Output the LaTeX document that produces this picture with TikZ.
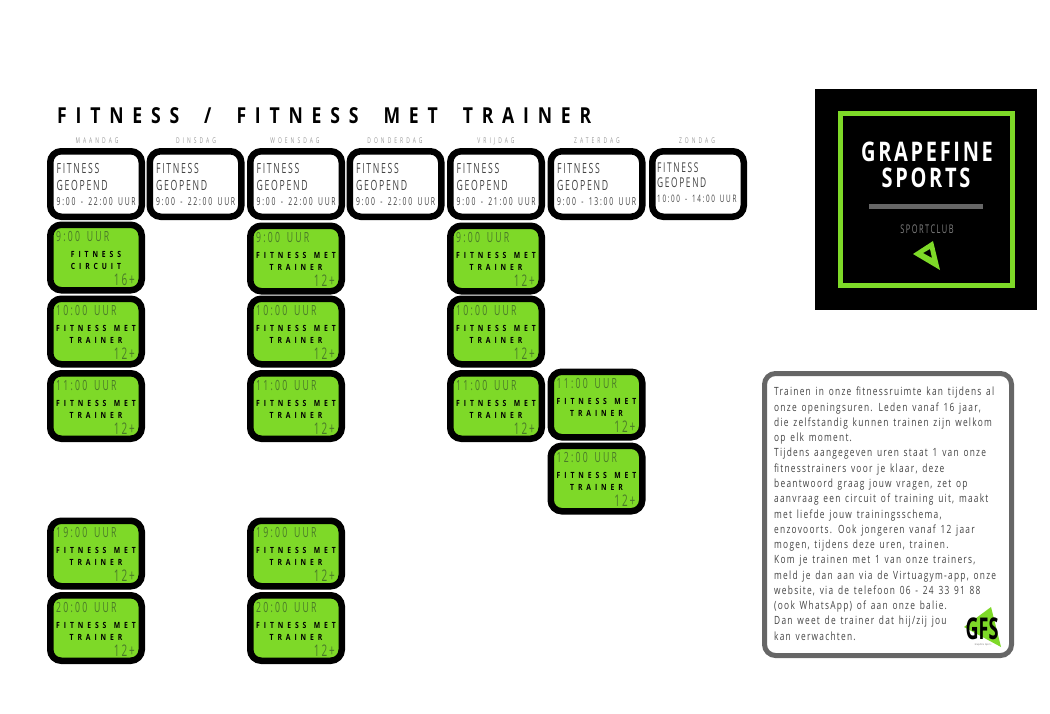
\documentclass[tikz,border=0pt]{standalone}
\usepackage{fontspec}
\setmainfont{Open Sans}
\newfontfamily\smal[FakeStretch=0.62,LetterSpace=12,WordSpace=1.5]{Open Sans}
\newfontfamily\urenfont[FakeStretch=0.62,LetterSpace=16,WordSpace=1.5]{Open Sans}
\newfontfamily\dagfont[FakeStretch=0.62,LetterSpace=38]{Open Sans}
\newfontfamily\vet[FakeStretch=0.8,LetterSpace=46,WordSpace=1.3]{Open Sans}
\newfontfamily\kop[FakeStretch=0.8,LetterSpace=40,WordSpace=1.87]{Open Sans}
\newfontfamily\merk[FakeStretch=0.74,LetterSpace=10]{Open Sans}
\newfontfamily\tekst[FakeStretch=0.74,LetterSpace=11,WordSpace=1.4]{Open Sans}
\newfontfamily\gfsfont[FakeStretch=0.6]{Open Sans}
\definecolor{sportgroen}{HTML}{7ED928}
\definecolor{tijdgrijs}{HTML}{4A7A28}
\definecolor{tekstgrijs}{HTML}{444444}
\definecolor{randgrijs}{HTML}{666666}
\tikzset{
    vak/.style={draw=black, line width=6.5pt, rounded corners=11pt, minimum width=91.5pt, minimum height=65.5pt},
    witvak/.style={vak, fill=white},
    groenvak/.style={vak, fill=sportgroen},
    dag/.style={anchor=base, inner sep=0pt, font=\dagfont\fontsize{8}{8}\selectfont, text=black!40},
    grijs/.style={anchor=base west, inner sep=0pt, text=tekstgrijs, font=\smal\fontsize{#1}{#1}\selectfont},
    urenregel/.style={anchor=base west, inner sep=0pt, text=tekstgrijs, font=\urenfont\fontsize{#1}{#1}\selectfont},
    tijd/.style={anchor=base west, inner sep=0pt, text=tijdgrijs, font=\urenfont\fontsize{14}{14}\selectfont},
    soort/.style={align=center, inner sep=0pt, text=black, font=\vet\bfseries\fontsize{8.5}{12}\selectfont},
    leeftijd/.style={anchor=base east, inner sep=0pt, text=tijdgrijs, font=\smal\fontsize{16}{16}\selectfont},
}
\begin{document}
\begin{tikzpicture}[x=1pt, y=-1pt]
    \useasboundingbox (0,0) rectangle (1050,713);

    % Title
    \node[anchor=base west, inner sep=0pt, font=\kop\bfseries\fontsize{22}{22}\selectfont] (titel) at (57,123) {FITNESS / FITNESS MET TRAINER};

    % Day labels
    \foreach \naam/\x/\dagnaam in {ma/97/MAANDAG, di/196/DINSDAG, wo/295/WOENSDAG, do/395/DONDERDAG, vr/496/VRIJDAG, za/597/ZATERDAG, zo/697/ZONDAG}
        \node[dag] (label-\naam) at (\x,143) {\dagnaam};

    % Opening hours
    \foreach \naam/\x/\uren in {ma/96/9:00 - 22:00 UUR, di/195.5/9:00 - 22:00 UUR, wo/296/9:00 - 22:00 UUR, do/395.5/9:00 - 22:00 UUR, vr/496/9:00 - 21:00 UUR, za/596.5/9:00 - 13:00 UUR}
    {
        \node[witvak] (\naam) at (\x,184) {};
        \node[grijs=14] (\naam-a) at ([shift={(9.5,25)}]\naam.north west) {FITNESS};
        \node[grijs=14] (\naam-b) at ([shift={(9.5,42.7)}]\naam.north west) {GEOPEND};
        \node[urenregel=11] (\naam-c) at ([shift={(9.5,57.7)}]\naam.north west) {\uren};
    }
    \node[witvak] (zo) at (698,184) {};
    \node[grijs=13.5] (zo-a) at ([shift={(8,24)}]zo.north west) {FITNESS};
    \node[grijs=13.5] (zo-b) at ([shift={(8,39.5)}]zo.north west) {GEOPEND};
    \node[urenregel=10.3] (zo-c) at ([shift={(8,54)}]zo.north west) {10:00 - 14:00 UUR};

    % Lessons
    \foreach \naam/\x/\y/\uur/\soortnaam/\jaar in {
        ma9/96/257.5/9:00 UUR/{FITNESS\\CIRCUIT}/16+,
        ma10/96/331.5/10:00 UUR/{FITNESS MET\\TRAINER}/12+,
        ma11/96/406/11:00 UUR/{FITNESS MET\\TRAINER}/12+,
        ma19/96/553.5/19:00 UUR/{FITNESS MET\\TRAINER}/12+,
        ma20/96/628/20:00 UUR/{FITNESS MET\\TRAINER}/12+,
        wo9/296/258.5/9:00 UUR/{FITNESS MET\\TRAINER}/12+,
        wo10/296/331.5/10:00 UUR/{FITNESS MET\\TRAINER}/12+,
        wo11/296/406/11:00 UUR/{FITNESS MET\\TRAINER}/12+,
        wo19/296/553.5/19:00 UUR/{FITNESS MET\\TRAINER}/12+,
        wo20/296/628/20:00 UUR/{FITNESS MET\\TRAINER}/12+,
        vr9/496/258.5/9:00 UUR/{FITNESS MET\\TRAINER}/12+,
        vr10/496/331.5/10:00 UUR/{FITNESS MET\\TRAINER}/12+,
        vr11/496/406/11:00 UUR/{FITNESS MET\\TRAINER}/12+,
        za11/596.5/404.5/11:00 UUR/{FITNESS MET\\TRAINER}/12+,
        za12/596.5/478.5/12:00 UUR/{FITNESS MET\\TRAINER}/12+}
    {
        \node[groenvak] (\naam) at (\x,\y) {};
        \node[tijd] (\naam-uur) at ([shift={(9,20)}]\naam.north west) {\uur};
        \node[soort] (\naam-les) at ([yshift=-3pt]\naam.center) {\soortnaam};
        \node[leeftijd] (\naam-jaar) at ([shift={(-10,-8)}]\naam.south east) {\jaar};
    }

    % Logo
    \fill[black] (815,89) rectangle (1037,310);
    \draw[sportgroen, line width=5.5pt] (840.5,113.5) rectangle (1012.5,285.5);
    \node[anchor=base, inner sep=0pt, text=white, font=\merk\bfseries\fontsize{27}{27}\selectfont] (grapefine) at (927,161) {GRAPEFINE};
    \node[anchor=base, inner sep=0pt, text=white, font=\merk\bfseries\fontsize{27}{27}\selectfont] (sports) at (926,187) {SPORTS};
    \fill[randgrijs] (869,204) rectangle (983,209);
    \node[anchor=base, inner sep=0pt, text=black!50, font=\smal\fontsize{12}{12}\selectfont] (sportclub) at (927,233) {SPORTCLUB};
    \fill[sportgroen, even odd rule] (913,254) -- (933,241) -- (940,270) -- cycle (923,253) -- (930,249) -- (932,258) -- cycle;

    % Info text
    \draw[randgrijs, fill=white, line width=5pt, rounded corners=11pt] (764.5,373.5) rectangle (1011.5,655.5);
    \node[anchor=north west, inner sep=0pt, align=left, text=tekstgrijs, font=\tekst\fontsize{11.3}{15.27}\selectfont] (info) at (774,387) {Trainen in onze fitnessruimte kan tijdens al\\
onze openingsuren. Leden vanaf 16 jaar,\\
die zelfstandig kunnen trainen zijn welkom\\
op elk moment.\\
Tijdens aangegeven uren staat 1 van onze\\
fitnesstrainers voor je klaar, deze\\
beantwoord graag jouw vragen, zet op\\
aanvraag een circuit of training uit, maakt\\
met liefde jouw trainingsschema,\\
enzovoorts. Ook jongeren vanaf 12 jaar\\
mogen, tijdens deze uren, trainen.\\
Kom je trainen met 1 van onze trainers,\\
meld je dan aan via de Virtuagym-app, onze\\
website, via de telefoon 06 - 24 33 91 88\\
(ook WhatsApp) of aan onze balie.\\
Dan weet de trainer dat hij/zij jou\\
kan verwachten.};

    % Small logo
    \fill[sportgroen] (991,607) -- (964,627) -- (1001,647) -- cycle;
    \node[anchor=base, inner sep=0pt, text height=21pt, text depth=0pt, text=black, font=\gfsfont\bfseries\fontsize{30}{30}\selectfont] (gfs) at (982,639) {GFS};
    \node[anchor=north, inner sep=0pt, text height=2pt, text depth=0pt, text=black!70, font=\smal\fontsize{2.5}{3}\selectfont] (gfs-naam) at (983,643.5) {Grapefine Sports};
\end{tikzpicture}
\end{document}
